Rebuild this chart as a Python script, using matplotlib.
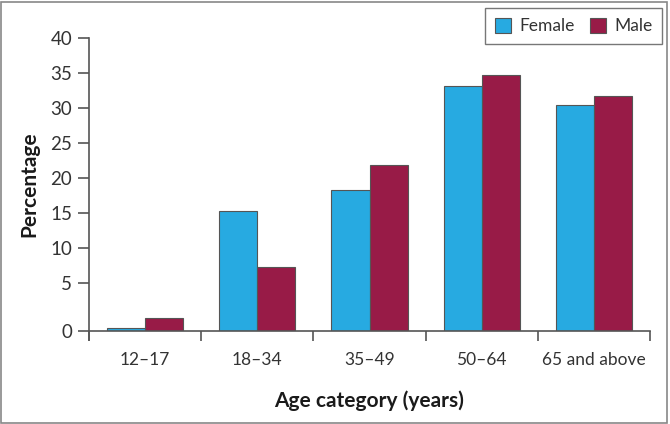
import matplotlib
matplotlib.use("Agg")
import matplotlib.pyplot as plt
import numpy as np
from matplotlib.patches import Rectangle

categories = ["12–17", "18–34", "35–49", "50–64", "65 and above"]
female = [0.3, 15.3, 18.3, 33.1, 30.4]
male = [1.4, 7.3, 21.9, 34.7, 31.7]
yticks = [0, 5, 10, 15, 20, 25, 30, 35, 40]

female_color = "#27AAE1"
male_color = "#981B47"

plt.rcParams['font.family'] = ['Lato', 'DejaVu Sans']

# broken-looking axis: 0-5 stretched
k = 48 / 35.0
def fwd(y):
    y = np.asarray(y, dtype=float)
    return np.where(y <= 5, y * k, y + 5 * (k - 1))
def inv(v):
    v = np.asarray(v, dtype=float)
    return np.where(v <= 5 * k, v / k, v - 5 * (k - 1))

fig = plt.figure(figsize=(6.7, 4.24), dpi=100)
ax = fig.add_axes([89 / 670, (424 - 331) / 424, (650 - 89) / 670, (331 - 38) / 424])
ax.set_yscale('function', functions=(fwd, inv))

x = np.arange(len(categories))
w = 0.34
ax.bar(x - w / 2, female, w, color=female_color, edgecolor="#555555", linewidth=0.8, label="Female")
ax.bar(x + w / 2, male, w, color=male_color, edgecolor="#555555", linewidth=0.8, label="Male")

ax.set_xlim(-0.5, len(categories) - 0.5)
ax.set_ylim(0, 40)
ax.set_yticks(yticks)
ax.set_yticklabels([str(t) for t in yticks], fontsize=13.5, color="#333333")
ax.set_xticks(x)
ax.set_xticklabels(categories, fontsize=12.5, color="#333333")
ax.tick_params(axis='x', length=0, pad=15)
ax.set_xticks(np.arange(len(categories) + 1) - 0.5, minor=True)
ax.tick_params(axis='x', which='minor', length=7, width=1.2, color="#555555", direction='out')
ax.tick_params(axis='y', length=8, width=1.2, color="#555555", direction='out', pad=4)

for s in ['top', 'right']:
    ax.spines[s].set_visible(False)
for s in ['left', 'bottom']:
    ax.spines[s].set_color("#555555")
    ax.spines[s].set_linewidth(1.2)
ax.spines['left'].set_bounds(-0.9, 40)

ax.set_ylabel("Percentage", fontsize=15, fontweight='bold', color="#1a1a1a", labelpad=8)
ax.set_xlabel("Age category (years)", fontsize=15, fontweight='bold', color="#1a1a1a", labelpad=16)

leg = ax.legend(loc='upper right', bbox_to_anchor=(662 / 670, 1 - 8 / 424), bbox_transform=fig.transFigure,
                ncol=2, frameon=True, fancybox=False, fontsize=12.5, handlelength=0.95, handleheight=0.95,
                columnspacing=0.9, handletextpad=0.45, borderpad=0.55, borderaxespad=0)
leg.get_frame().set_edgecolor("#555555")
leg.get_frame().set_linewidth(1.0)
for t in leg.get_texts():
    t.set_color("#333333")

fig.patches.append(Rectangle((1 / 670, 1.5 / 424), 666 / 670, 421 / 424, transform=fig.transFigure,
                             fill=False, edgecolor="#888888", linewidth=1.2))

fig.savefig("out.png", dpi=100)
